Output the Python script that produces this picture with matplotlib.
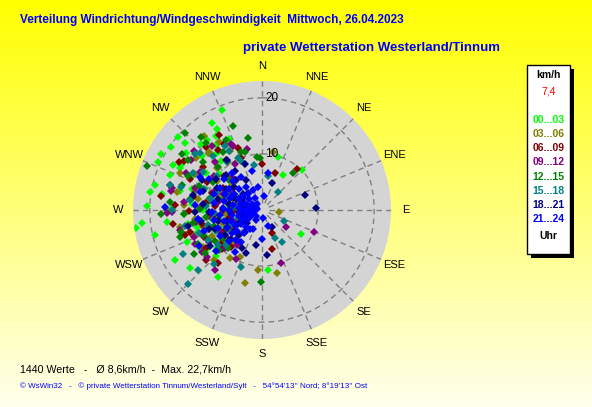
import numpy as np
import matplotlib
matplotlib.use("Agg")
import matplotlib.pyplot as plt
from matplotlib.patches import Rectangle

# wind direction (deg, from N clockwise) and speed (km/h), one pair of lists per 3-hour block
dir_00_03 = [338, 330, 331, 311, 311, 322, 325, 305, 299, 295, 297, 297, 283, 279, 272, 262, 264, 257, 240, 231,
             213, 174, 121, 45, 31, 17,
             335, 328, 322, 317, 312, 307, 303, 299, 295, 291, 287, 283, 279, 275, 271, 267, 263, 259, 255, 251,
             247, 243, 239, 235, 230, 225, 300, 290, 280, 270, 260, 250, 310, 320, 285, 265, 245, 275, 295, 255]
spd_00_03 = [19.2, 18, 16.5, 19.9, 18.2, 15.8, 14.2, 19.7, 20.6, 20.4, 17.8, 16.5, 19.6, 20.2, 20.6, 22.7, 21.6, 19.6, 18, 16.5,
             14.3, 10.7, 8.2, 10, 7.2, 9.9,
             14, 15.5, 13, 16, 14.5, 17, 12, 16.5, 14, 17.5, 13, 15, 18, 12.5, 16, 14, 17, 13.5, 15, 12,
             14.5, 11, 13, 12, 10.5, 11.5, 10, 11, 9.5, 10.5, 9, 9.5, 10, 11.5, 7.5, 7, 8, 6, 6.5, 12]

dir_03_06 = [193, 184, 167, 96, 11, 322, 328, 317, 224, 214, 205,
             332, 325, 318, 313, 308, 303, 298, 294, 290, 286, 282, 278, 274, 270, 266, 262, 258, 254, 250, 246,
             242, 238, 233, 228, 222, 300, 288, 276, 264, 252, 240, 310, 284, 268, 296, 256, 218, 280]
spd_03_06 = [13.4, 10.8, 11.5, 3, 10.5, 16.7, 14.4, 13.9, 12.4, 10.3, 9.3,
             12, 10.5, 14, 11, 15, 9.5, 13.5, 16, 8.5, 12.5, 15.5, 10, 14, 17, 9, 12, 15, 11, 13, 8.5,
             10, 12.5, 9, 11, 8, 6, 7, 5.5, 6.5, 7.5, 6, 7, 4, 3.5, 4.5, 3, 7, 11.5]

dir_06_09 = [40, 20, 157, 166, 220, 278, 324, 0, 330, 339, 300, 252, 228,
             338, 330, 324, 318, 312, 306, 302, 297, 293, 289, 285, 281, 277, 273, 269, 265, 261, 257, 253, 249,
             245, 240, 236, 231, 226, 220, 305, 292, 280, 268, 256, 244, 315, 287, 271, 259, 300, 275]
spd_06_09 = [9.6, 7, 4.4, 7.1, 12.3, 18.2, 13.3, 8.2, 15.5, 11.8, 17, 14.4, 13.4,
             10, 13.5, 11, 15, 9, 13, 16.5, 11, 14, 9.5, 17, 12.5, 10, 15.5, 13, 8.5, 16, 11, 13.5, 9,
             11.5, 8, 12, 9.5, 10, 8.5, 6.5, 5.5, 6, 4.5, 6, 5, 7.5, 3.5, 3, 4, 8, 8.5]

dir_09_12 = [113, 160, 208, 218, 125, 346, 335, 215, 230, 243, 282, 269, 305,
             336, 329, 322, 316, 311, 305, 301, 296, 292, 288, 284, 280, 276, 272, 268, 264, 260, 256, 252, 248,
             244, 239, 235, 230, 224, 219, 298, 286, 274, 262, 250, 238, 308, 282, 266, 254, 292, 270, 318]
spd_09_12 = [10, 10, 9.8, 13.6, 5.2, 11.3, 12.9, 7.7, 12.9, 13.4, 16.5, 16, 15.5,
             12.5, 9.5, 14.5, 12, 16, 10.5, 13, 15, 9, 12.5, 16.5, 8, 14, 11, 17, 9.5, 12, 15, 10, 13,
             8.5, 11, 13, 8, 9.5, 7, 6, 4.5, 5, 4, 5.5, 6, 6.5, 3, 3.5, 3, 7.5, 7, 8]

dir_12_15 = [291, 341, 349, 315, 355, 358, 40, 181, 233, 252, 320, 305, 268, 237, 344,
             340, 333, 326, 320, 314, 309, 304, 300, 295, 291, 287, 283, 279, 275, 271, 267, 263, 259, 255, 251,
             247, 242, 237, 232, 227, 302, 289, 277, 265, 253, 241, 312, 285, 268, 297, 258, 222]
spd_12_15 = [22, 15.8, 13.1, 19.3, 9.5, 9.3, 8.6, 12.9, 12.7, 15.4, 17, 17.5, 18, 14.4, 10.8,
             11, 14, 12.5, 15.5, 11, 13.5, 16, 10, 14.5, 12, 15, 9.5, 13, 16.5, 11, 14, 10, 12.5, 15, 9,
             11.5, 13, 10, 8.5, 10.5, 7, 6, 5, 5.5, 6.5, 7, 8, 4, 3.5, 5, 8, 9]

dir_15_18 = [225, 227, 241, 42, 116, 155, 330, 222, 148, 200, 335, 350, 10, 310, 285,
             337, 331, 324, 318, 313, 307, 303, 298, 294, 290, 286, 282, 278, 274, 270, 266, 262, 258, 254, 250,
             246, 241, 236, 231, 226, 221, 300, 288, 276, 264, 252, 240, 310, 284, 269, 257, 294, 246, 228]
spd_15_18 = [18.7, 15.6, 16.2, 4.2, 4.3, 5.6, 13.1, 12.9, 6.7, 10.8, 10.3, 8.2, 6.2, 15.5, 17,
             9.5, 12, 10.5, 13, 15, 10, 12.5, 14, 8.5, 11, 15, 9.5, 13, 10, 16, 8.5, 11.5, 14, 10, 12,
             9, 11, 8, 10, 9, 7, 5.5, 4, 4.5, 3.5, 4.5, 5.5, 6.5, 3, 2.5, 3, 7, 6, 6]

dir_18_21 = [71, 88, 173, 190, 200, 208, 325, 340, 20, 150, 235, 258,
             332, 325, 319, 314, 309, 304, 300, 296, 292, 288, 284, 280, 276, 272, 268, 264, 260, 256, 252, 248,
             244, 240, 236, 232, 227, 222, 217, 302, 290, 278, 266, 254, 242, 230, 310, 286, 272, 258, 246, 296,
             282, 268, 250, 320]
spd_18_21 = [8.2, 9.6, 8, 6.4, 8.2, 7.7, 10.8, 8.8, 5.2, 3.6, 11.3, 13.4,
             6, 8.5, 7, 9, 6.5, 10, 7.5, 9, 5, 11, 8, 6, 10.5, 7, 9.5, 5.5, 11, 8, 6.5, 9,
             7, 5, 8, 6, 7.5, 6, 5, 4, 3.5, 3, 4, 3.5, 4, 3.5, 4.5, 2, 2.5, 2, 2.5, 12,
             12.5, 12, 10, 4]

dir_21_24 = [320, 300, 285, 275, 265, 255, 240, 225, 210, 330, 290, 270, 250, 310, 280, 260, 235, 295,
             335, 325, 318, 312, 306, 300, 295, 290, 285, 280, 275, 270, 265, 260, 255, 250, 245, 240, 235, 230,
             224, 218, 212, 205,
             328, 321, 315, 309, 303, 298, 293, 288, 283, 278, 273, 268, 263, 258, 253, 248, 243, 238, 233, 227,
             221, 214,
             300, 286, 274, 262, 250, 298,
             9, 213, 272, 240, 228, 345, 350, 180, 160, 10, 170]
spd_21_24 = [1.5, 2, 1, 2.5, 1.5, 2, 2.5, 1.5, 2, 2.5, 3, 3, 3, 3, 1.8, 2.8, 3.2, 1.2,
             4, 5, 3.8, 5.5, 4.2, 5.8, 4.5, 6, 3.8, 5.2, 4.2, 5.8, 4, 5.5, 4.2, 5.8, 4, 5.5, 4.5, 5.8,
             4.2, 5.2, 4, 3.8,
             7, 8.5, 7.2, 8.8, 7, 8.5, 7.2, 9, 7, 8.6, 7, 9, 7.5, 8.7, 7, 8.5, 7, 8.8, 6.8, 8,
             7, 6.8,
             11, 11.5, 12, 11.5, 11, 12.5,
             6.7, 9, 17.3, 13, 11, 7.2, 4.1, 5.2, 3.1, 2.5, 1.5]

blocks = ["00...03", "03...06", "06...09", "09...12", "12...15", "15...18", "18...21", "21...24"]
colors = ["#00ff00", "#808000", "#800000", "#800080", "#008000", "#008080", "#000080", "#0000ff"]
dirs = [dir_00_03, dir_03_06, dir_06_09, dir_09_12, dir_12_15, dir_15_18, dir_18_21, dir_21_24]
spds = [spd_00_03, spd_03_06, spd_06_09, spd_09_12, spd_12_15, spd_15_18, spd_18_21, spd_21_24]

compass = ["N", "NNE", "NE", "ENE", "E", "ESE", "SE", "SSE",
           "S", "SSW", "SW", "WSW", "W", "WNW", "NW", "NNW"]
rings = [10, 20]
r_max = 23.0
current = "7,4"

title1 = "Verteilung Windrichtung/Windgeschwindigkeit  Mittwoch, 26.04.2023"
title2 = "private Wetterstation Westerland/Tinnum"
stats = "1440 Werte   -   \u00d8 8,6km/h  -  Max. 22,7km/h"
footer = ("\u00a9 WsWin32   -   \u00a9 private Wetterstation Tinnum/Westerland/Sylt   -   "
          "54\u00b054'13'' Nord; 8\u00b019'13'' Ost")

plt.rcParams['font.family'] = ['Liberation Sans', 'DejaVu Sans']

W, H = 592, 407
fig = plt.figure(figsize=(W / 100, H / 100), dpi=100)

# yellow gradient background
bg = fig.add_axes([0, 0, 1, 1], zorder=-10)
grad = np.linspace(0, 1, 256)[:, None]
img = np.ones((256, 2, 3))
img[:, :, 2] = grad * 0.93
bg.imshow(img, aspect='auto', extent=[0, 1, 0, 1], origin='upper')
bg.set_axis_off()

def fx(px):
    return px / W

def fy(py):
    return 1 - py / H

cx, cy, rad = 262, 210, 129
ax = fig.add_axes([fx(cx - rad), fy(cy + rad), 2 * rad / W, 2 * rad / H], projection='polar')
ax.set_theta_zero_location('N')
ax.set_theta_direction(-1)
ax.set_facecolor('#d4d4d4')
ax.set_ylim(0, r_max)
ax.grid(False)
ax.set_xticks([])
ax.set_yticks([])
ax.spines['polar'].set_visible(False)

th = np.linspace(0, 2 * np.pi, 300)
for r in rings:
    ax.plot(th, np.full_like(th, r), color='#808080', lw=1, ls=(0, (4, 3)), zorder=1)
    ax.annotate(str(r), (0, r), xytext=(10, 0), textcoords='offset pixels',
                fontsize=8.5, ha='center', va='center', zorder=5)
for i, lab in enumerate(compass):
    a = np.deg2rad(i * 22.5)
    ax.plot([a, a], [1.3, r_max], color='#808080', lw=1, ls=(0, (4, 3)), zorder=1)
    ax.text(a, 25.6, lab, fontsize=8, ha='center', va='center', clip_on=False)

for d, s, c in zip(dirs, spds, colors):
    ax.plot(np.deg2rad(d), s, ls='none', marker='D', ms=3.6, mew=0, color=c, zorder=3)

# titles and bottom texts
fig.text(fx(20), fy(20), title1, fontsize=8.45, fontweight='bold', color='#0000ff', va='center')
fig.text(fx(243), fy(48), title2, fontsize=9.5, fontweight='bold', color='#0000ff', va='center')
fig.text(fx(20), fy(369), stats, fontsize=7.7, color='black', va='center')
fig.text(fx(20), fy(386), footer, fontsize=5.8, color='#0000ff', va='center')

# legend box with shadow
bx0, by0, bx1, by1 = 527, 65, 570, 254
fig.add_artist(Rectangle((fx(bx0 + 4), fy(by1 + 4)), (bx1 - bx0) / W, (by1 - by0) / H,
                         facecolor='black', edgecolor='none', zorder=1))
fig.add_artist(Rectangle((fx(bx0), fy(by1)), (bx1 - bx0) / W, (by1 - by0) / H,
                         facecolor='white', edgecolor='black', lw=1, zorder=2))
lx = fx((bx0 + bx1) / 2)
fig.text(lx, fy(75), "km/h", fontsize=7.5, fontweight='bold', ha='center', va='center', zorder=3)
fig.text(lx, fy(92), current, fontsize=7.5, color='red', ha='center', va='center', zorder=3)
for i, (b, c) in enumerate(zip(blocks, colors)):
    fig.text(lx, fy(120 + i * 14.15), b, fontsize=7.5, fontweight='bold', color=c,
             ha='center', va='center', zorder=3)
fig.text(lx, fy(236), "Uhr", fontsize=7.5, fontweight='bold', ha='center', va='center', zorder=3)

fig.savefig("out.png", dpi=100)
